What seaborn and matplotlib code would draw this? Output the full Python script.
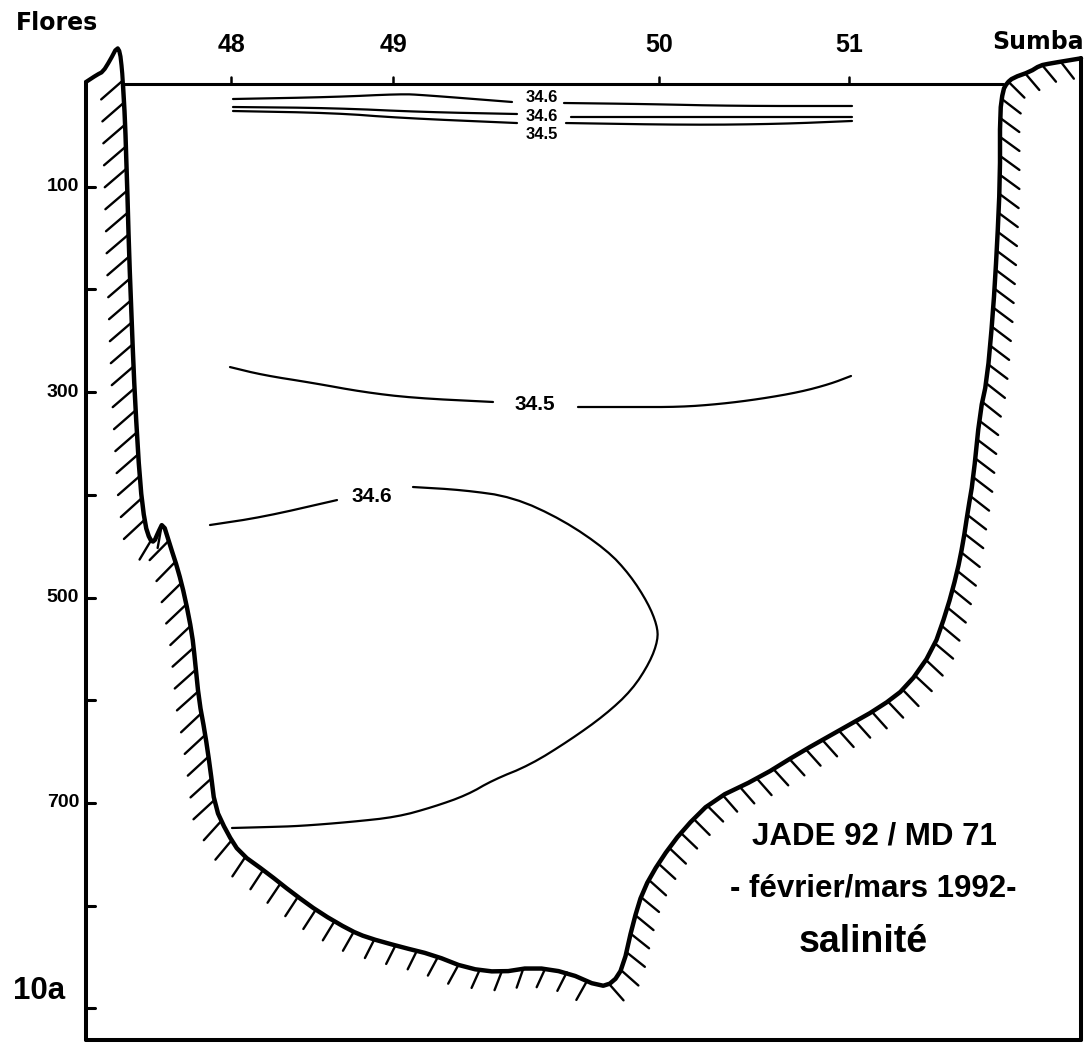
import numpy as np
import matplotlib
matplotlib.use('Agg')
import matplotlib.pyplot as plt
import seaborn as sns
from matplotlib.collections import LineCollection

# stations along the Flores - Sumba section (distance in drawing units)
stations = ['48', '49', '50', '51']
station_dist = [231, 393, 659, 849]

depth_ticks = [100, 200, 300, 400, 500, 600, 700, 800, 900]
depth_labels = [100, 300, 500, 700]

# Flores summit
flores_dist = [86, 97, 103, 110, 117, 120, 122, 123]
flores_depth = [-2, -9, -12, -23, -36, -31, -14, 1]

# sea floor, from Flores to Sumba (depth in m)
bottom_dist = [123, 125, 127, 129, 132, 135, 140, 145, 150, 154, 158, 163, 170, 178, 185,
               192, 195, 199, 205, 210, 215, 227, 240, 267, 293, 320, 350, 367, 400, 433,
               467, 500, 533, 567, 600, 613, 623, 633, 643, 660, 683, 713, 760, 800, 840,
               880, 907, 933, 947, 957, 963, 968, 973, 980, 987, 993, 997, 1000, 1000, 1003,
               1007, 1013, 1030, 1040, 1050, 1081]
bottom_depth = [1, 35, 93, 162, 240, 308, 389, 429, 444, 446, 437, 427, 449, 473, 500,
                535, 561, 600, 632, 665, 704, 729, 749, 768, 788, 807, 824, 831, 840, 848,
                861, 865, 860, 865, 879, 875, 860, 817, 785, 756, 726, 697, 675, 651, 629,
                607, 587, 551, 512, 476, 447, 415, 386, 320, 288, 223, 159, 93, 28, 6,
                -1, -6, -12, -18, -20, -25]

# salinity isolines (each broken around its label)
top1a_dist, top1a_depth = [233, 334, 401, 423, 512], [14.6, 12.7, 9.7, 10.7, 17.5]
top1b_dist, top1b_depth = [564, 646, 736, 852], [18.5, 19.5, 21.4, 21.4]
top2a_dist, top2a_depth = [233, 334, 423, 517], [22.4, 23.4, 27.3, 29.2]
top2b_dist, top2b_depth = [571, 691, 852], [32.1, 32.1, 32.1]
top3a_dist, top3a_depth = [233, 334, 401, 517], [26.3, 28.2, 33.1, 38.0]
top3b_dist, top3b_depth = [566, 691, 780, 852], [38.0, 39.9, 38.9, 36.0]

mid345a_dist = [230, 263, 313, 363, 413, 493]
mid345a_depth = [275.6, 283.4, 291.1, 299.9, 305.7, 309.6]
mid345b_dist = [578, 630, 680, 720, 760, 800, 830, 851]
mid345b_depth = [314.5, 314.5, 314.5, 311.6, 306.7, 299.9, 292.1, 284.3]

loop346a_dist = [210, 263, 337]
loop346a_depth = [429.4, 421.6, 405.1]
loop346b_dist = [413, 463, 513, 563, 607, 630, 648, 657, 658, 650, 632, 605, 570, 530,
                 493, 467, 433, 397, 350, 300, 267, 232]
loop346b_depth = [392.4, 395.3, 402.1, 424.5, 453.8, 478.0, 505.4, 526.8, 541.4, 562.8,
                  590.1, 614.4, 638.8, 663.1, 677.7, 692.3, 704.0, 713.7, 718.6, 722.5,
                  723.5, 724.4]

labels = ['34.6', '34.6', '34.5', '34.5', '34.6']
label_dist = [542, 542, 542, 535, 372]
label_depth = [13.4, 31.2, 48.9, 311.6, 402.1]

sns.set_theme(style='white')
plt.rcParams['font.family'] = ['Liberation Sans', 'DejaVu Sans']
plt.rcParams['text.color'] = 'black'

fig = plt.figure(figsize=(10.91, 10.45), dpi=100)
ax = fig.add_axes([0, 0, 1, 1])
ax.set_xlim(0, 1091)
ax.set_ylim(935.7, -81.8)
ax.axis('off')


def chaikin(x, y, n=2):
    p = np.column_stack([x, y]).astype(float)
    for _ in range(n):
        q = 0.75 * p[:-1] + 0.25 * p[1:]
        r = 0.25 * p[:-1] + 0.75 * p[1:]
        m = np.empty((2 * len(q), 2))
        m[0::2] = q
        m[1::2] = r
        p = np.vstack([p[:1], m, p[-1:]])
    return p[:, 0], p[:, 1]


def draw(x, y, lw, smooth=2):
    sx, sy = chaikin(x, y, smooth)
    sns.lineplot(x=sx, y=sy, sort=False, estimator=None, color='black', lw=lw,
                 solid_capstyle='round', solid_joinstyle='round', ax=ax, legend=False)


def hatch(x, y, step, l0, l1, a0, k, wrap):
    # short strokes on the land side of the profile
    H = fig.bbox.height
    pts = ax.transData.transform(np.column_stack([x, y]))
    pts[:, 1] = H - pts[:, 1]
    seg = np.diff(pts, axis=0)
    s = np.concatenate([[0], np.cumsum(np.hypot(seg[:, 0], seg[:, 1]))])
    ss = np.arange(step * 0.5, s[-1], step)
    px = np.interp(ss, s, pts[:, 0])
    py = np.interp(ss, s, pts[:, 1])
    tx = np.interp(ss + 8, s, pts[:, 0]) - np.interp(ss - 8, s, pts[:, 0])
    ty = np.interp(ss + 8, s, pts[:, 1]) - np.interp(ss - 8, s, pts[:, 1])
    phi = np.degrees(np.arctan2(tx, -ty))
    if wrap:
        phi = phi % 360
    a = np.radians(a0 + k * phi)
    length = l0 + (l1 - l0) * np.clip(np.abs(phi - 90) / 90, 0, 1)
    ex = px + length * np.cos(a)
    ey = py + length * np.sin(a)
    inv = ax.transData.inverted()
    p0 = inv.transform(np.column_stack([px, H - py]))
    p1 = inv.transform(np.column_stack([ex, H - ey]))
    lc = LineCollection(np.stack([p0, p1], axis=1), colors='black', linewidths=1.7,
                        capstyle='round')
    ax.add_collection(lc)


# frame
draw([86, 86], [-2, 931], 2.9, 0)
draw([86, 1081], [931, 931], 2.9, 0)
draw([1081, 1081], [-25, 931], 2.9, 0)

# sea surface
draw([123, 1003], [0, 0], 2.2, 0)

# land
draw(flores_dist, flores_depth, 3.0, 1)
draw(bottom_dist, bottom_depth, 3.2, 1)

deep = bottom_depth.index(max(bottom_depth))
hatch([122] + bottom_dist[:deep + 1], [-14] + bottom_depth[:deep + 1],
      22, 19, 29, 84, 0.311, True)
hatch(bottom_dist[deep:-1] + [1068], bottom_depth[deep:-1] + [-22.6],
      19, 21, 24, 36, 0.2, False)

# isolines
for xs, ys in [(top1a_dist, top1a_depth), (top1b_dist, top1b_depth),
               (top2a_dist, top2a_depth), (top2b_dist, top2b_depth),
               (top3a_dist, top3a_depth), (top3b_dist, top3b_depth),
               (mid345a_dist, mid345a_depth), (mid345b_dist, mid345b_depth),
               (loop346a_dist, loop346a_depth), (loop346b_dist, loop346b_depth)]:
    draw(xs, ys, 1.6)

for i, (t, x, y) in enumerate(zip(labels, label_dist, label_depth)):
    ax.text(x, y, t, ha='center', va='center', fontsize=12 if i < 3 else 15,
            fontweight='bold')

# depth axis
for d in depth_ticks:
    ax.plot([86, 95], [d, d], color='black', lw=2.2)
for d in depth_labels:
    ax.text(79, d, str(d), ha='right', va='center', fontsize=14, fontweight='bold')

# stations
for s, x in zip(stations, station_dist):
    ax.plot([x, x], [0, -6.5], color='black', lw=1.8)
    ax.text(x, -38, s, ha='center', va='center', fontsize=18, fontweight='bold')

ax.text(57, -59.4, 'Flores', ha='center', va='center', fontsize=17, fontweight='bold',
        family=['DejaVu Sans'])
ax.text(1038, -40.9, 'Sumba', ha='center', va='center', fontsize=17, fontweight='bold',
        family=['DejaVu Sans'])

ax.text(874, 733, 'JADE 92 / MD 71', ha='center', va='center', fontsize=22.5,
        fontweight='bold')
ax.text(873, 783.5, '- février/mars 1992-', ha='center', va='center', fontsize=22.5,
        fontweight='bold')
ax.text(863, 835.4, 'salinité', ha='center', va='center', fontsize=27, fontweight='bold')
ax.text(39, 883.2, '10a', ha='center', va='center', fontsize=22.5, fontweight='bold')

fig.savefig('out.png', dpi=100, facecolor='white')
